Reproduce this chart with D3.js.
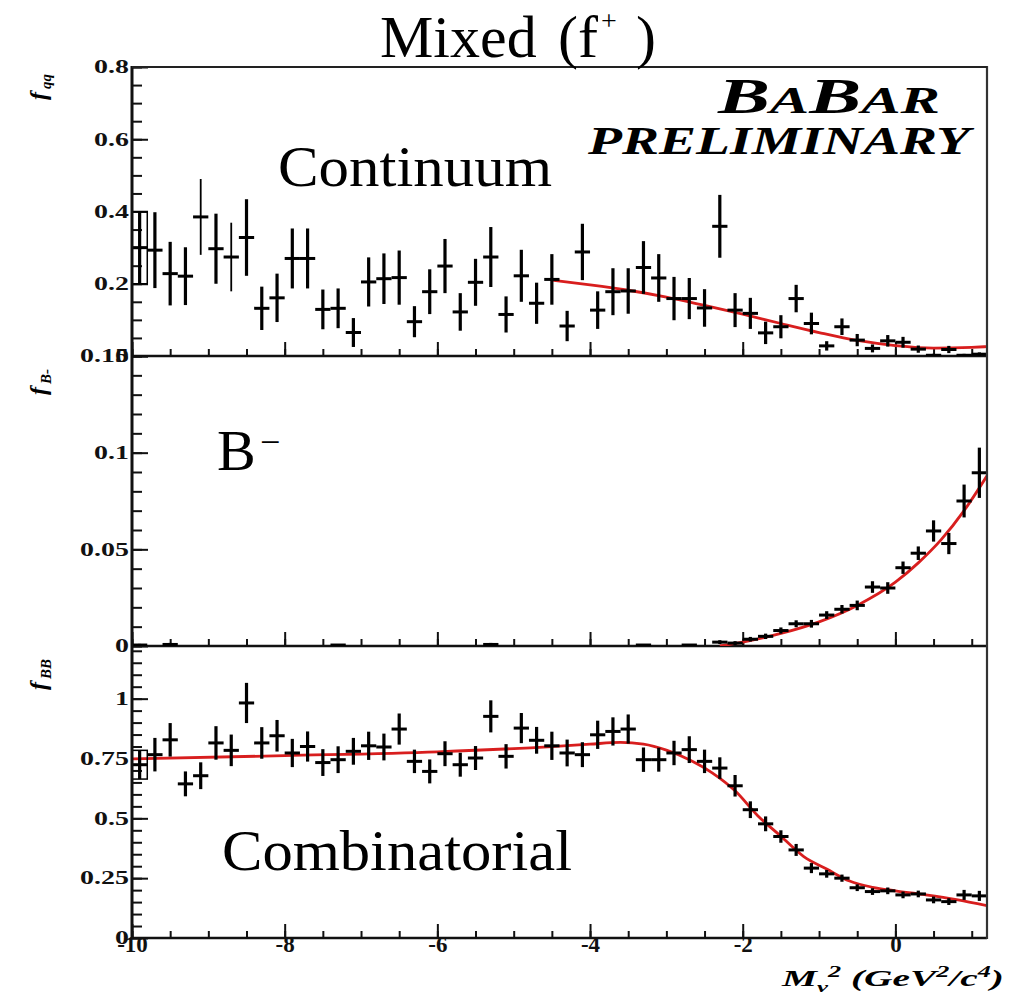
<!DOCTYPE html>
<html><head><meta charset="utf-8">
<script src="https://cdn.jsdelivr.net/npm/d3@7"></script>
<style>body{margin:0;background:#fff}svg{display:block}</style>
</head><body>
<svg id="c" width="1019" height="1000"></svg>
<script>
// ---------------- DATA ----------------
const binCenters = [-9.9,-9.7,-9.5,-9.3,-9.1,-8.9,-8.7,-8.5,-8.3,-8.1,-7.9,-7.7,-7.5,-7.3,-7.1,-6.9,-6.7,-6.5,-6.3,-6.1,
  -5.9,-5.7,-5.5,-5.3,-5.1,-4.9,-4.7,-4.5,-4.3,-4.1,-3.9,-3.7,-3.5,-3.3,-3.1,-2.9,-2.7,-2.5,-2.3,-2.1,
  -1.9,-1.7,-1.5,-1.3,-1.1,-0.9,-0.7,-0.5,-0.3,-0.1,0.1,0.3,0.5,0.7,0.9,1.1];
const binHalfWidth = 0.1;

// Continuum (f_qq)
const contVal = [0.300,0.293,0.228,0.221,0.385,0.297,0.274,0.328,0.132,0.161,0.270,0.270,0.129,0.132,0.065,0.205,0.214,0.217,0.095,0.178,
  0.249,0.122,0.204,0.274,0.115,0.222,0.146,0.212,0.083,0.288,0.127,0.178,0.180,0.245,0.216,0.159,0.159,0.133,0.359,0.127,
  0.118,0.064,0.081,0.159,0.090,0.028,0.081,0.044,0.021,0.042,0.038,0.019,0.002,0.018,0.002,0.005];
const contErr = [0.100,0.105,0.088,0.080,0.105,0.097,0.095,0.106,0.060,0.067,0.083,0.083,0.055,0.055,0.040,0.068,0.070,0.075,0.043,0.062,
  0.075,0.052,0.065,0.083,0.050,0.072,0.057,0.070,0.042,0.078,0.052,0.065,0.063,0.073,0.066,0.060,0.057,0.052,0.087,0.047,
  0.043,0.031,0.032,0.038,0.030,0.013,0.023,0.017,0.011,0.016,0.015,0.010,0.004,0.010,0.004,0.005];
const contFitX = [-4.5,-4.0,-3.5,-3.0,-2.5,-2.0,-1.5,-1.0,-0.5,0.0,0.5,1.0,1.2];
const contFitY = [0.210,0.197,0.182,0.163,0.140,0.116,0.090,0.065,0.043,0.029,0.022,0.024,0.026];

// B- (f_B-)
const bmVal = [0.0005,0,0.0008,0,0,0,0,0,0,0,0,0,0,0.0005,0,0,0,0,0,0,
  0,0,0,0.0008,0,0,0,0,0,0,0,0,0,0.0005,0,0,0.0005,0,0.002,0.0015,
  0.0035,0.005,0.008,0.0115,0.0115,0.016,0.019,0.021,0.0305,0.030,0.0405,0.048,0.0595,0.053,0.075,0.0896];
const bmErr = [0.0006,0,0.0008,0,0,0,0,0,0,0,0,0,0,0.0005,0,0,0,0,0,0,
  0,0,0,0.0008,0,0,0,0,0,0,0,0,0,0.0005,0,0,0.0005,0,0.001,0.001,
  0.0012,0.0014,0.0016,0.0018,0.002,0.002,0.0022,0.0025,0.003,0.003,0.0032,0.0035,0.0055,0.0055,0.0085,0.013];
const bmFitX = [-2.3,-2.0,-1.5,-1.0,-0.5,0.0,0.3,0.6,0.9,1.2];
const bmFitY = [0.0,0.002,0.0065,0.0125,0.021,0.033,0.043,0.055,0.070,0.088];

// Combinatorial (f_BB)
const combVal = [0.724,0.766,0.828,0.644,0.678,0.815,0.784,0.982,0.815,0.845,0.773,0.800,0.733,0.745,0.780,0.803,0.798,0.873,0.738,0.696,
  0.770,0.724,0.752,0.926,0.759,0.877,0.826,0.803,0.773,0.766,0.849,0.863,0.873,0.745,0.745,0.773,0.787,0.738,0.710,0.636,
  0.536,0.477,0.424,0.368,0.292,0.268,0.250,0.210,0.194,0.197,0.180,0.184,0.159,0.152,0.180,0.176];
const combErr = [0.060,0.070,0.070,0.052,0.056,0.070,0.066,0.084,0.066,0.066,0.059,0.063,0.056,0.056,0.056,0.059,0.056,0.065,0.049,0.050,
  0.052,0.050,0.050,0.067,0.051,0.063,0.056,0.059,0.056,0.052,0.059,0.059,0.061,0.051,0.050,0.051,0.056,0.049,0.045,0.045,
  0.035,0.031,0.026,0.025,0.021,0.016,0.015,0.014,0.014,0.014,0.014,0.014,0.014,0.014,0.021,0.021];
const combFitX = [-10,-8,-6,-4.5,-4.0,-3.6,-3.3,-3.0,-2.7,-2.4,-2.1,-1.8,-1.5,-1.2,-0.9,-0.6,-0.3,0.0,0.4,0.8,1.2];
const combFitY = [0.748,0.762,0.778,0.800,0.810,0.817,0.810,0.785,0.745,0.690,0.615,0.510,0.425,0.340,0.288,0.238,0.212,0.197,0.180,0.160,0.135];

// Axis ticks
const xTickValues = [-10,-8,-6,-4,-2,0];
const xTickLabels = ["-10","-8","-6","-4","-2","0"];
const contTickValues = [0,0.2,0.4,0.6,0.8];
const contTickLabels = ["0","0.2","0.4","0.6","0.8"];
const bmTickValues = [0,0.05,0.1,0.15];
const bmTickLabels = ["0","0.05","0.1","0.15"];
const combTickValues = [0,0.25,0.5,0.75,1];
const combTickLabels = ["0","0.25","0.5","0.75","1"];

// ---------------- DRAW ----------------
const svg = d3.select("#c");
const L = 132, R = 987;
const serif = "'Liberation Serif','Times New Roman',Times,serif";
const x = d3.scaleLinear().domain([-10, 1.2]).range([L, R]);
const xMinor = d3.range(-10, 1.2001, 0.5);

const panels = [
  {y: d3.scaleLinear().domain([0,0.8]).range([356,67]), val: contVal, err: contErr, tv: contTickValues, tl: contTickLabels, minorStep: 0.05, fx: contFitX, fy: contFitY},
  {y: d3.scaleLinear().domain([0,0.15]).range([646,356]), val: bmVal, err: bmErr, tv: bmTickValues, tl: bmTickLabels, minorStep: 0.01, fx: bmFitX, fy: bmFitY},
  {y: d3.scaleLinear().domain([0,1.22]).range([938,646]), val: combVal, err: combErr, tv: combTickValues, tl: combTickLabels, minorStep: 0.05, fx: combFitX, fy: combFitY}
];

const defs = svg.append("defs");

panels.forEach((p, pi) => {
  const y = p.y;
  const [y0, y1] = y.range(); // bottom, top
  const clipId = "clip" + pi;
  defs.append("clipPath").attr("id", clipId).append("rect")
    .attr("x", L).attr("y", y1).attr("width", R - L).attr("height", y0 - y1);

  // y minor ticks
  const ymax = y.domain()[1];
  const yMinor = d3.range(0, ymax + 1e-9, p.minorStep);
  svg.append("g").attr("transform", `translate(${L},0)`)
    .call(d3.axisLeft(y).tickValues(yMinor).tickSize(-10).tickFormat(""))
    .call(g => g.select(".domain").remove())
    .selectAll("line").attr("stroke", "#111").attr("stroke-width", 2);
  // y major ticks + labels
  const gy = svg.append("g").attr("transform", `translate(${L},0)`)
    .call(d3.axisLeft(y).tickValues(p.tv).tickSize(-16).tickPadding(2).tickFormat((d, i) => p.tl[i]))
    .call(g => g.select(".domain").remove());
  gy.selectAll("line").attr("stroke", "#111").attr("stroke-width", 2);
  gy.selectAll("text")
    .attr("font-family", serif).attr("font-weight", "bold").attr("font-size", 18)
    .attr("fill", "#111")
    .attr("transform", "scale(1.55,1)");

  // x ticks at panel bottom
  svg.append("g").attr("transform", `translate(0,${y0})`)
    .call(d3.axisBottom(x).tickValues(xMinor).tickSize(-7).tickFormat(""))
    .call(g => g.select(".domain").remove())
    .selectAll("line").attr("stroke", "#111").attr("stroke-width", 2);
  const gx = svg.append("g").attr("transform", `translate(0,${y0})`)
    .call(d3.axisBottom(x).tickValues(xTickValues).tickSize(-14).tickFormat((d, i) => pi === 2 ? xTickLabels[i] : ""))
    .call(g => g.select(".domain").remove());
  gx.selectAll("line").attr("stroke", "#111").attr("stroke-width", 2);
  gx.selectAll("text")
    .attr("font-family", serif).attr("font-weight", "bold").attr("font-size", 23)
    .attr("fill", "#111").attr("y", 14).attr("dy", 0);

  // panel bottom axis line
  svg.append("line").attr("x1", L).attr("x2", R).attr("y1", y0).attr("y2", y0)
    .attr("stroke", "#111").attr("stroke-width", 2.5);

  const gp = svg.append("g").attr("clip-path", `url(#${clipId})`);

  // fit curve
  const fitData = p.fx.map((v, i) => [v, p.fy[i]]);
  gp.append("path").datum(fitData)
    .attr("d", d3.line().x(d => x(d[0])).y(d => y(d[1])).curve(d3.curveMonotoneX))
    .attr("fill", "none").attr("stroke", "#d81e1e").attr("stroke-width", 2.8);

  // data points with error bars
  const pts = binCenters.map((c, i) => ({c, v: p.val[i], e: p.err[i], i}))
    .filter(d => !(d.v === 0 && d.e === 0));
  const g = gp.selectAll("g.pt").data(pts).join("g").attr("class", "pt");
  g.append("line")
    .attr("x1", d => x(d.c - binHalfWidth)).attr("x2", d => x(d.c + binHalfWidth))
    .attr("y1", d => y(d.v)).attr("y2", d => y(d.v))
    .attr("stroke", "#000").attr("stroke-width", 3);
  g.append("line")
    .attr("x1", d => x(d.c)).attr("x2", d => x(d.c))
    .attr("y1", d => y(d.v - d.e)).attr("y2", d => y(d.v + d.e))
    .attr("stroke", "#000").attr("stroke-width", d => pi === 0 && (d.i === 4 || d.i === 6) ? 1.8 : 3.2);
  // first bin drawn as an outlined box (as in the original)
  g.filter(d => d.i === 0 && pi !== 1).append("rect")
    .attr("x", d => x(d.c - binHalfWidth)).attr("width", d => x(d.c + binHalfWidth) - x(d.c - binHalfWidth))
    .attr("y", d => y(d.v + d.e)).attr("height", d => y(d.v - d.e) - y(d.v + d.e))
    .attr("fill", "none").attr("stroke", "#000").attr("stroke-width", 1.5);
});

// frame
svg.append("line").attr("x1", L).attr("x2", L).attr("y1", 66).attr("y2", 939).attr("stroke", "#111").attr("stroke-width", 3);
svg.append("line").attr("x1", R).attr("x2", R).attr("y1", 66).attr("y2", 939).attr("stroke", "#333").attr("stroke-width", 2.2);
svg.append("line").attr("x1", L).attr("x2", R).attr("y1", 67).attr("y2", 67).attr("stroke", "#222").attr("stroke-width", 2.2);

// ---------------- TEXT ----------------
// Title
svg.append("text").attr("x", 380).attr("y", 57).attr("font-family", serif).attr("font-size", 60).text("Mixed");
svg.append("text").attr("x", 558).attr("y", 57).attr("font-family", serif).attr("font-size", 60).text("(f");
svg.append("text").attr("x", 601).attr("y", 30).attr("font-family", serif).attr("font-size", 28).text("+");
svg.append("text").attr("x", 636).attr("y", 57).attr("font-family", serif).attr("font-size", 60).text(")");

// Panel labels
svg.append("text").attr("x", 278).attr("y", 186).attr("font-family", serif).attr("font-size", 58)
  .attr("textLength", 274).attr("lengthAdjust", "spacingAndGlyphs").text("Continuum");
svg.append("text").attr("x", 217).attr("y", 470).attr("font-family", serif).attr("font-size", 58).text("B");
svg.append("text").attr("x", 260).attr("y", 454).attr("font-family", serif).attr("font-size", 36).text("\u2212");
svg.append("text").attr("x", 222).attr("y", 870).attr("font-family", serif).attr("font-size", 58)
  .attr("textLength", 350).attr("lengthAdjust", "spacingAndGlyphs").text("Combinatorial");

// BaBar logo
const logo = svg.append("text").attr("x", 718).attr("y", 113).attr("font-family", serif)
  .attr("font-weight", "bold").attr("font-style", "italic")
  .attr("textLength", 222).attr("lengthAdjust", "spacingAndGlyphs");
logo.append("tspan").attr("font-size", 50).text("B");
logo.append("tspan").attr("font-size", 38).text("A");
logo.append("tspan").attr("font-size", 50).text("B");
logo.append("tspan").attr("font-size", 38).text("AR");
svg.append("text").attr("x", 588).attr("y", 154).attr("font-family", serif)
  .attr("font-weight", "bold").attr("font-style", "italic").attr("font-size", 40)
  .attr("textLength", 382).attr("lengthAdjust", "spacingAndGlyphs").text("PRELIMINARY");

// X axis title
const xt = svg.append("text").attr("x", 782).attr("y", 986).attr("font-family", serif)
  .attr("font-weight", "bold").attr("font-style", "italic").attr("font-size", 24)
  .attr("textLength", 222).attr("lengthAdjust", "spacingAndGlyphs");
xt.append("tspan").text("M");
xt.append("tspan").attr("font-size", 15).attr("dy", 6).text("\u03BD");
xt.append("tspan").attr("font-size", 16).attr("dy", -15).text("2");
xt.append("tspan").attr("dy", 9).text(" (GeV");
xt.append("tspan").attr("font-size", 16).attr("dy", -9).text("2");
xt.append("tspan").attr("dy", 9).text("/c");
xt.append("tspan").attr("font-size", 16).attr("dy", -9).text("4");
xt.append("tspan").attr("dy", 9).text(")");

// Y axis titles (rotated)
function yTitle(yPos, sub) {
  const t = svg.append("text").attr("transform", `translate(46,${yPos}) rotate(-90)`)
    .attr("font-family", serif).attr("font-weight", "bold").attr("font-style", "italic").attr("font-size", 24);
  t.append("tspan").text("f");
  t.append("tspan").attr("font-size", 15).attr("dy", 5).attr("dx", 3).text(sub);
}
yTitle(100, "qq");
yTitle(395, "B-");
yTitle(690, "BB");
</script>
</body></html>
